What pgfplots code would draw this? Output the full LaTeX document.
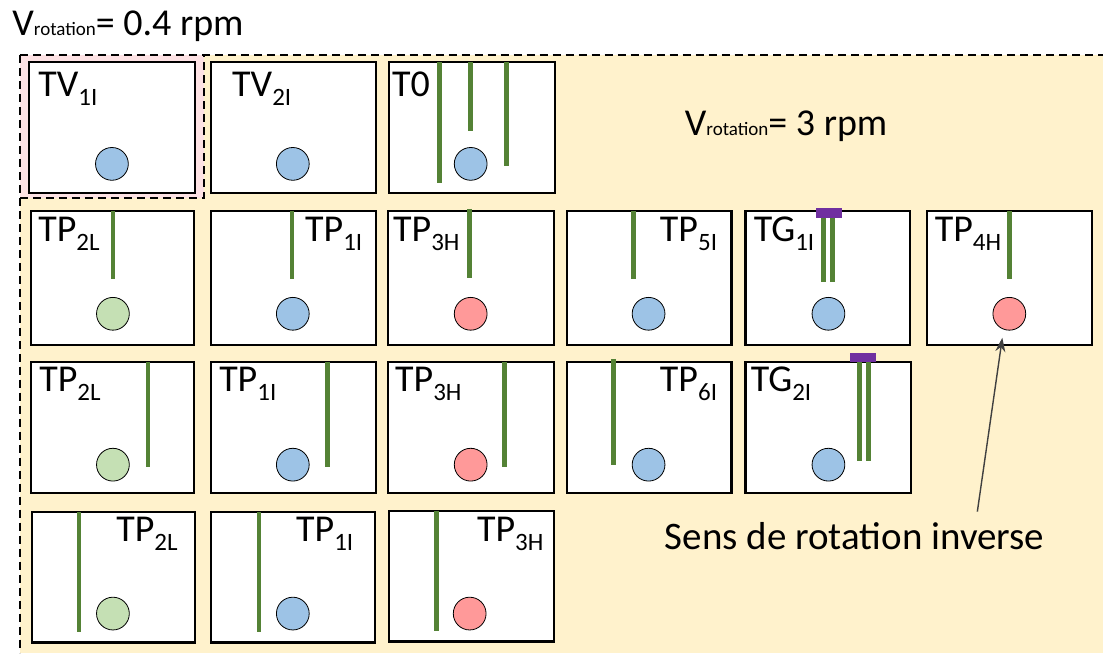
\documentclass[border=0pt]{standalone}
\usepackage{pgfplots}
\pgfplotsset{compat=1.18}
\usetikzlibrary{arrows.meta}
\usepackage{fontspec}
\setmainfont{Carlito}
\definecolor{bgY}{HTML}{FFF2CC}
\definecolor{bgP}{HTML}{FDE2E4}
\definecolor{ballB}{HTML}{9DC3E6}
\definecolor{ballG}{HTML}{C5E0B4}
\definecolor{ballR}{HTML}{FF9999}
\definecolor{ballEdge}{HTML}{808080}
\definecolor{stickG}{HTML}{548235}
\definecolor{capP}{HTML}{7030A0}
\definecolor{arrowC}{HTML}{404040}
\newcommand{\lab}[4]{\node[anchor=base west,inner sep=0pt,font=\fontsize{19}{20}\selectfont] at (axis cs:#1,#2) {#3\raisebox{-4.5pt}{\fontsize{12.5}{13}\selectfont #4}};}
\begin{document}
\begin{tikzpicture}
\begin{axis}[
  x=0.5pt, y=0.5pt, y dir=reverse,
  xmin=0, xmax=1104, ymin=0, ymax=653,
  hide axis, clip=false,
  box/.style={draw=black, line width=1.1pt, fill=white, line join=miter},
  stick/.style={draw=stickG, line width=2.3pt},
  ball/.style={only marks, mark=*, mark size=8.2pt, mark options={draw=ballEdge, line width=0.8pt}},
  cap/.style={draw=none, fill=capP},
]
% background
\addplot[draw=none, fill=white] coordinates {(0,0)(1104,0)(1104,653)(0,653)} -- cycle;
\addplot[draw=none, fill=bgY] coordinates {(20,55)(1104,55)(1104,653)(20,653)} -- cycle;
\addplot[draw=none, fill=bgP] coordinates {(20,55)(204,55)(204,198)(20,198)} -- cycle;
\addplot[black, line width=0.75pt, dash pattern=on 4pt off 2.5pt] coordinates {(20,55)(1104,55)};
\addplot[black, line width=0.75pt, dash pattern=on 4pt off 2.5pt] coordinates {(20,55)(20,653)};
\addplot[black, line width=0.75pt, dash pattern=on 4pt off 2.5pt] coordinates {(20,198)(204,198)(204,55)};
% row 1 boxes
\addplot[box] coordinates {(29,62)(195,62)(195,193)(29,193)} -- cycle;
\addplot[box] coordinates {(211,62)(376,62)(376,193)(211,193)} -- cycle;
\addplot[box] coordinates {(389,62)(555,62)(555,193)(389,193)} -- cycle;
% row 2 boxes
\addplot[box] coordinates {(31,211)(194,211)(194,345)(31,345)} -- cycle;
\addplot[box] coordinates {(211,211)(376,211)(376,345)(211,345)} -- cycle;
\addplot[box] coordinates {(388,211)(554,211)(554,345)(388,345)} -- cycle;
\addplot[box] coordinates {(567,211)(732,211)(732,345)(567,345)} -- cycle;
\addplot[box] coordinates {(746,211)(911,211)(911,345)(746,345)} -- cycle;
\addplot[box] coordinates {(928,211)(1093,211)(1093,345)(928,345)} -- cycle;
% row 3 boxes
\addplot[box] coordinates {(31,362)(194,362)(194,493)(31,493)} -- cycle;
\addplot[box] coordinates {(211,362)(376,362)(376,493)(211,493)} -- cycle;
\addplot[box] coordinates {(388,362)(554,362)(554,493)(388,493)} -- cycle;
\addplot[box] coordinates {(567,362)(732,362)(732,493)(567,493)} -- cycle;
\addplot[box] coordinates {(746,362)(912,362)(912,493)(746,493)} -- cycle;
% row 4 boxes
\addplot[box] coordinates {(32,512)(195,512)(195,643)(32,643)} -- cycle;
\addplot[box] coordinates {(211,512)(375,512)(375,643)(211,643)} -- cycle;
\addplot[box] coordinates {(389,511)(554,511)(554,642)(389,642)} -- cycle;
% sticks row 1 (T0)
\addplot[stick] coordinates {(440,62)(440,183)};
\addplot[stick] coordinates {(471,62)(471,131)};
\addplot[stick] coordinates {(507,62)(507,166)};
% sticks row 2
\addplot[stick] coordinates {(113,211)(113,279)};
\addplot[stick] coordinates {(292,211)(292,279)};
\addplot[stick] coordinates {(470,209)(470,278)};
\addplot[stick] coordinates {(634,211)(634,279)};
\addplot[stick] coordinates {(824,216)(824,282)};
\addplot[stick] coordinates {(833,216)(833,282)};
\addplot[stick] coordinates {(1010,211)(1010,279)};
% sticks row 3
\addplot[stick] coordinates {(148,362)(148,467)};
\addplot[stick] coordinates {(328,362)(328,467)};
\addplot[stick] coordinates {(505,362)(505,467)};
\addplot[stick] coordinates {(614,359)(614,465)};
\addplot[stick] coordinates {(860,362)(860,461)};
\addplot[stick] coordinates {(869,362)(869,461)};
% sticks row 4
\addplot[stick] coordinates {(79,512)(79,632)};
\addplot[stick] coordinates {(259,512)(259,632)};
\addplot[stick] coordinates {(437,511)(437,631)};
% purple caps
\addplot[cap] coordinates {(817,208)(843,208)(843,218)(817,218)} -- cycle;
\addplot[cap] coordinates {(851,353)(877,353)(877,362)(851,362)} -- cycle;
% balls
\addplot[ball, mark options={fill=ballB}] coordinates {(112,164)(293,164)(471,164)(293,314)(649,314)(829,314)(293,465)(649,465)(829,465)(293,614)};
\addplot[ball, mark options={fill=ballG}] coordinates {(113,314)(113,465)(113,614)};
\addplot[ball, mark options={fill=ballR}] coordinates {(471,314)(1010,314)(471,465)(470,614)};
% arrow
\addplot[arrowC, line width=0.7pt, -{Stealth[length=7pt,width=5pt]}] coordinates {(978,512)(1003,338)};
% labels
\lab{38}{97}{TV}{1I}
\lab{232}{97}{TV}{2I}
\node[anchor=base west,inner sep=0pt,font=\fontsize{19}{20}\selectfont] at (axis cs:392,97) {T0};
\lab{38}{242}{TP}{2L}
\lab{305}{242}{TP}{1I}
\lab{393}{242}{TP}{3H}
\lab{660}{242}{TP}{5I}
\lab{754}{242}{TG}{1I}
\lab{935}{242}{TP}{4H}
\lab{39}{392}{TP}{2L}
\lab{219}{392}{TP}{1I}
\lab{395}{392}{TP}{3H}
\lab{660}{392}{TP}{6I}
\lab{751}{392}{TG}{2I}
\lab{116}{542}{TP}{2L}
\lab{296}{542}{TP}{1I}
\lab{477}{542}{TP}{3H}
\node[anchor=base west,inner sep=0pt,font=\fontsize{19}{20}\selectfont] at (axis cs:12,36) {V{\fontsize{9.5}{10}\selectfont rotation}= 0.4 rpm};
\node[anchor=base west,inner sep=0pt,font=\fontsize{19}{20}\selectfont] at (axis cs:685,136) {V{\fontsize{9.5}{10}\selectfont rotation}= 3 rpm};
\node[anchor=base west,inner sep=0pt,font=\fontsize{19.5}{20}\selectfont] at (axis cs:665,550) {Sens de rotation inverse};
\end{axis}
\end{tikzpicture}
\end{document}
